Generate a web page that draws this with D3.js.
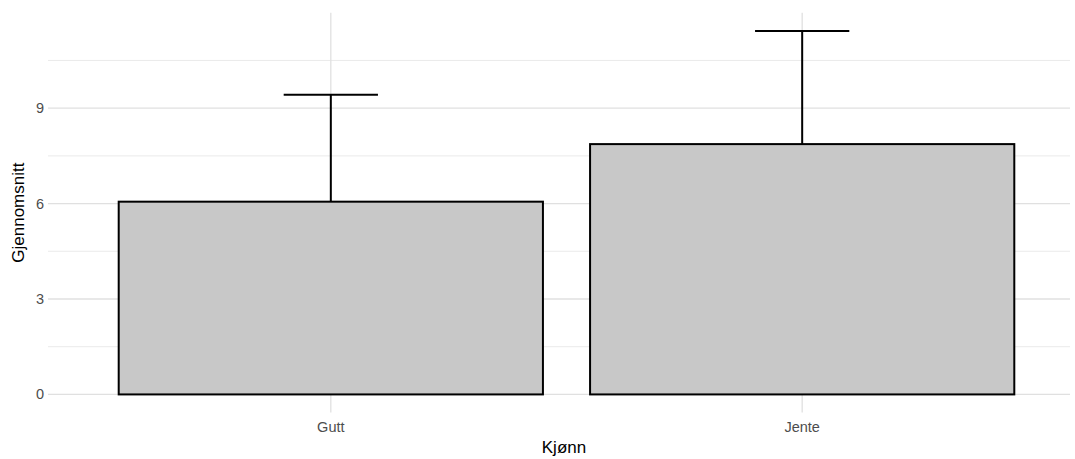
<!DOCTYPE html>
<html>
<head>
<meta charset="utf-8">
<script src="https://cdn.jsdelivr.net/npm/d3@7"></script>
<style>
  body { margin: 0; background: #fff; }
  svg { display: block; font-family: "Liberation Sans", Arial, sans-serif; }
</style>
</head>
<body>
<div id="chart"></div>
<script>
// data
const categories = ["Gutt", "Jente"];
const means = [6.06, 7.87];
const upper = [9.42, 11.43];   // mean + sd
const lower = [2.70, 4.31];    // mean - sd (hidden behind bars)
const yTicks = [0, 3, 6, 9];
const yMinor = [1.5, 4.5, 7.5, 10.5];

const width = 1075, height = 459;
const panel = { left: 48, right: 1070, top: 12.7, bottom: 412.6 };

const svg = d3.select("#chart").append("svg")
    .attr("width", width)
    .attr("height", height);

// ggplot-like expansion (5% on each side)
const yMax = d3.max(upper), yMin = 0;
const pad = (yMax - yMin) * 0.05;
const y = d3.scaleLinear()
    .domain([yMin - pad, yMax + pad])
    .range([panel.bottom, panel.top]);

const x = d3.scaleBand()
    .domain(categories)
    .range([48, 1085])
    .paddingInner(0.1)
    .paddingOuter(0.15);

const step = x.step();
const cx = d => x(d) + x.bandwidth() / 2;

// grid
const grid = svg.append("g");
grid.selectAll(".minor")
    .data(yMinor)
    .join("line")
    .attr("x1", panel.left).attr("x2", panel.right)
    .attr("y1", d => y(d)).attr("y2", d => y(d))
    .attr("stroke", "#e8e8e8")
    .attr("stroke-width", 0.9);

grid.selectAll(".major")
    .data(yTicks)
    .join("line")
    .attr("x1", panel.left).attr("x2", panel.right)
    .attr("y1", d => y(d)).attr("y2", d => y(d))
    .attr("stroke", "#e0e0e0")
    .attr("stroke-width", 1.3);

grid.selectAll(".vmajor")
    .data(categories)
    .join("line")
    .attr("x1", d => cx(d)).attr("x2", d => cx(d))
    .attr("y1", panel.top).attr("y2", panel.bottom)
    .attr("stroke", "#e0e0e0")
    .attr("stroke-width", 1.3);

// error bars (drawn first, bars cover the lower half)
const eb = svg.append("g")
    .attr("stroke", "#000")
    .attr("stroke-width", 2);

categories.forEach((c, i) => {
    eb.append("line")
        .attr("x1", cx(c)).attr("x2", cx(c))
        .attr("y1", y(lower[i])).attr("y2", y(upper[i]));
    eb.append("line")
        .attr("x1", cx(c) - step * 0.1).attr("x2", cx(c) + step * 0.1)
        .attr("y1", y(upper[i])).attr("y2", y(upper[i]));
    eb.append("line")
        .attr("x1", cx(c) - step * 0.1).attr("x2", cx(c) + step * 0.1)
        .attr("y1", y(lower[i])).attr("y2", y(lower[i]));
});

// bars
svg.append("g")
    .selectAll("rect")
    .data(categories)
    .join("rect")
    .attr("x", d => x(d))
    .attr("width", x.bandwidth())
    .attr("y", (d, i) => y(means[i]))
    .attr("height", (d, i) => y(0) - y(means[i]))
    .attr("fill", "#c8c8c8")
    .attr("stroke", "#000")
    .attr("stroke-width", 2);

// axes text
svg.append("g")
    .selectAll("text")
    .data(yTicks)
    .join("text")
    .attr("x", 44)
    .attr("y", d => y(d))
    .attr("dy", "0.35em")
    .attr("text-anchor", "end")
    .attr("font-size", 14.5)
    .attr("fill", "#4d4d4d")
    .text(d => d);

svg.append("g")
    .selectAll("text")
    .data(categories)
    .join("text")
    .attr("x", d => cx(d))
    .attr("y", 432)
    .attr("text-anchor", "middle")
    .attr("font-size", 14.5)
    .attr("fill", "#4d4d4d")
    .text(d => d);

svg.append("text")
    .attr("x", (panel.left + panel.right) / 2 + 5)
    .attr("y", 453)
    .attr("text-anchor", "middle")
    .attr("font-size", 17)
    .attr("fill", "#000")
    .text("Kjønn");

svg.append("text")
    .attr("transform", `translate(24,${(panel.top + panel.bottom) / 2}) rotate(-90)`)
    .attr("text-anchor", "middle")
    .attr("font-size", 17)
    .attr("fill", "#000")
    .text("Gjennomsnitt");
</script>
</body>
</html>
